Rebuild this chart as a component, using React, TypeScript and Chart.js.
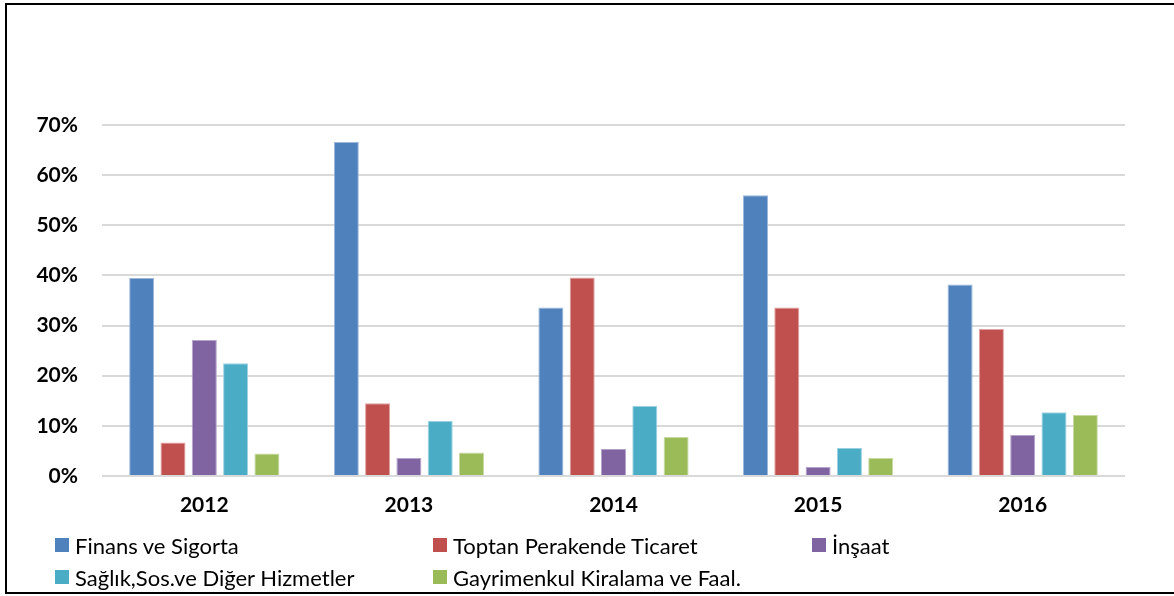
import React, { useEffect, useRef } from "react";
import { Chart, registerables } from "chart.js";

Chart.register(...registerables);

const years = ["2012", "2013", "2014", "2015", "2016"];
const seriesNames = [
  "Finans ve Sigorta",
  "Toptan Perakende Ticaret",
  "İnşaat",
  "Sağlık,Sos.ve Diğer Hizmetler",
  "Gayrimenkul Kiralama ve Faal.",
];
const finans = [39.5, 66.6, 33.6, 56.0, 38.2];
const toptan = [6.7, 14.5, 39.6, 33.6, 29.3];
const insaat = [27.1, 3.6, 5.4, 1.8, 8.2];
const saglik = [22.5, 11.0, 14.0, 5.6, 12.7];
const gayrimenkul = [4.5, 4.7, 7.8, 3.6, 12.2];
const yTicks = [0, 10, 20, 30, 40, 50, 60, 70];

const seriesValues = [finans, toptan, insaat, saglik, gayrimenkul];
const colors = ["#4F81BD", "#C0504D", "#8064A2", "#4BACC6", "#9BBB59"];
const edgeColors = ["#9DB8DC", "#E0A3A1", "#B5A5CB", "#9ED3E2", "#C9DBA5"];

const FONT = "Lato, 'Open Sans', sans-serif";

export default function App() {
  const canvasRef = useRef<HTMLCanvasElement | null>(null);

  useEffect(() => {
    const canvas = canvasRef.current;
    if (!canvas) return;
    const chart = new Chart(canvas, {
      type: "bar",
      data: {
        labels: years,
        datasets: seriesValues.map((vals, i) => ({
          label: seriesNames[i],
          data: vals,
          backgroundColor: colors[i],
          borderColor: edgeColors[i],
          borderWidth: 1,
          categoryPercentage: 0.765,
          barPercentage: 0.8,
        })),
      },
      options: {
        responsive: false,
        animation: false,
        devicePixelRatio: 1,
        layout: { padding: { left: 0, top: 125, right: 49, bottom: 0 } },
        plugins: {
          legend: { display: false },
          tooltip: { enabled: false },
          title: { display: false },
        },
        scales: {
          x: {
            grid: { display: false, drawTicks: false },
            border: { display: false },
            ticks: {
              color: "#000",
              padding: 17,
              font: { family: FONT, size: 21, weight: "bold" },
            },
            afterFit: (scale: any) => {
              scale.height = 120;
            },
          },
          y: {
            min: 0,
            max: 70,
            afterBuildTicks: (scale: any) => {
              scale.ticks = yTicks.map((v) => ({ value: v }));
            },
            grid: { color: "#D9D9D9", lineWidth: 2, drawTicks: false },
            border: { display: false },
            ticks: {
              color: "#000",
              padding: 24,
              font: { family: FONT, size: 21, weight: "bold" },
              callback: (v: any) => `${v}%`,
            },
            afterFit: (scale: any) => {
              scale.width = 102;
            },
          },
        },
      },
    });
    return () => chart.destroy();
  }, []);

  const colX = [55, 433, 812];
  const rowY = [545, 577];

  return (
    <div
      style={{
        position: "fixed",
        left: 0,
        top: 0,
        width: 1174,
        height: 596,
        overflow: "hidden",
        background: "#fff",
      }}
    >
      <canvas
        ref={canvasRef}
        width={1174}
        height={596}
        style={{ position: "absolute", left: 0, top: 0, width: 1174, height: 596 }}
      />
      <div
        style={{
          position: "absolute",
          left: 5,
          top: 3,
          width: 1240,
          height: 591,
          border: "2px solid #000",
          boxSizing: "border-box",
          pointerEvents: "none",
        }}
      />
      {seriesNames.map((name, i) => {
        const col = i % 3;
        const row = Math.floor(i / 3);
        return (
          <div
            key={name}
            style={{
              position: "absolute",
              left: colX[col],
              top: rowY[row] - 15,
              height: 30,
              display: "flex",
              alignItems: "center",
              fontFamily: FONT,
              fontSize: 22,
              color: "#000",
              whiteSpace: "nowrap",
            }}
          >
            <span
              style={{
                display: "inline-block",
                width: 14,
                height: 14,
                background: colors[i],
                marginRight: 6,
              }}
            />
            <span>{name}</span>
          </div>
        );
      })}
    </div>
  );
}
